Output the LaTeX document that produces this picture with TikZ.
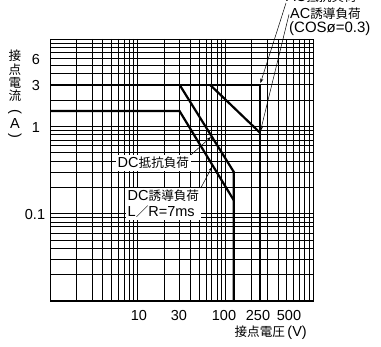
\documentclass[tikz,border=0pt]{standalone}
\usepackage{fontspec}
\setmainfont{Liberation Sans}
\newfontfamily\jp{Noto Sans CJK JP}[Scale=0.87]
\usetikzlibrary{arrows.meta}
\newcommand\LX[1]{(50+87.67*log10(#1))}
\newcommand\LY[1]{(301-87.33*(log10(#1)+2))}
\tikzset{
  gridline/.style={line width=0.6pt, black},
  frameline/.style={line width=0.8pt, black},
  curve/.style={line width=2.2pt, black},
  leader/.style={line width=0.5pt, -{Stealth[length=4.5pt,width=3pt]}},
  lbl/.style={font=\fontsize{14.5}{16}\selectfont, inner sep=0pt},
  box/.style={lbl, fill=white, inner xsep=1.5pt, inner ysep=2pt},
}
\begin{document}
\begin{tikzpicture}[x=1pt,y=-1pt]
\useasboundingbox (0,0) rectangle (381,347);
% grid
\foreach \k in {1,10,100}{\foreach \m in {1,...,9}{
  \draw[gridline] ({\LX{\m*\k}},39) -- ({\LX{\m*\k}},301);}}
\foreach \k in {0.01,0.1,1}{\foreach \m in {1,...,9}{
  \draw[gridline] (50,{\LY{\m*\k}}) -- (313,{\LY{\m*\k}});}}
\draw[frameline] (50,39) rectangle (313,301);
% curves
\draw[curve] (50,{\LY{3}}) -- ({\LX{250}},{\LY{3}}) -- ({\LX{250}},301);
\draw[curve] ({\LX{30}},{\LY{3}}) -- ({\LX{125}},{\LY{0.3}}) -- ({\LX{125}},301);
\draw[curve] (50,{\LY{1.5}}) -- ({\LX{30}},{\LY{1.5}}) -- ({\LX{125}},{\LY{0.14}});
\draw[curve] ({\LX{66.7}},{\LY{3}}) -- ({\LX{250}},{\LY{0.84}});
% axis tick labels
\node[lbl] (y6) at (36,60) {6};
\node[lbl] (y3) at (36,86) {3};
\node[lbl] (y1) at (36,128) {1};
\node[lbl] (y01) at (35,215) {0.1};
\node[lbl] (x10) at (139,316) {10};
\node[lbl] (x30) at (179,316) {30};
\node[lbl] (x100) at (224,316) {100};
\node[lbl] (x250) at (258,316) {250};
\node[lbl] (x500) at (289,316) {500};
\node[lbl, anchor=east] (xt) at (307,333) {{\jp 接点電圧}\,(V)};
% y axis title
\node[lbl] (ya) at (15,56) {\jp 接};
\node[lbl] (yb) at (15,70) {\jp 点};
\node[lbl] (yc) at (15,83) {\jp 電};
\node[lbl] (yd) at (15,96) {\jp 流};
\node[lbl, rotate=-90] (ye) at (15,112) {(};
\node[lbl] (yf) at (15,124) {A};
\node[lbl, rotate=-90] (yg) at (15,136) {)};
% load labels
\node[box, anchor=west] (dcr) at (116,163) {DC{\jp 抵抗負荷}};
\node[box, anchor=north west, align=left] (dci) at (126,188) {DC{\jp 誘導負荷}\\L{\jp ／}R=7ms};
\node[lbl, anchor=west] (acr) at (286,-3) {AC{\jp 抵抗負荷}};
\node[lbl, anchor=west] (aci) at (290,13.5) {AC{\jp 誘導負荷}};
\node[lbl, anchor=west, font=\fontsize{15}{16}\selectfont] (cos) at (289,29) {(COSø=0.3)};
% leaders
\coordinate (pdcr) at (211,137);
\coordinate (pdci) at (212,167);
\coordinate (pacr) at (260.5,83);
\coordinate (paci) at (260.5,131);
\draw[leader] (dcr.north east) -- (pdcr);
\draw[leader] (dci.north east) -- (pdci);
\draw[leader] (acr.south west) -- (pacr);
\draw[leader] (aci.west) ++(-1,1) -- (paci);
\end{tikzpicture}
\end{document}
